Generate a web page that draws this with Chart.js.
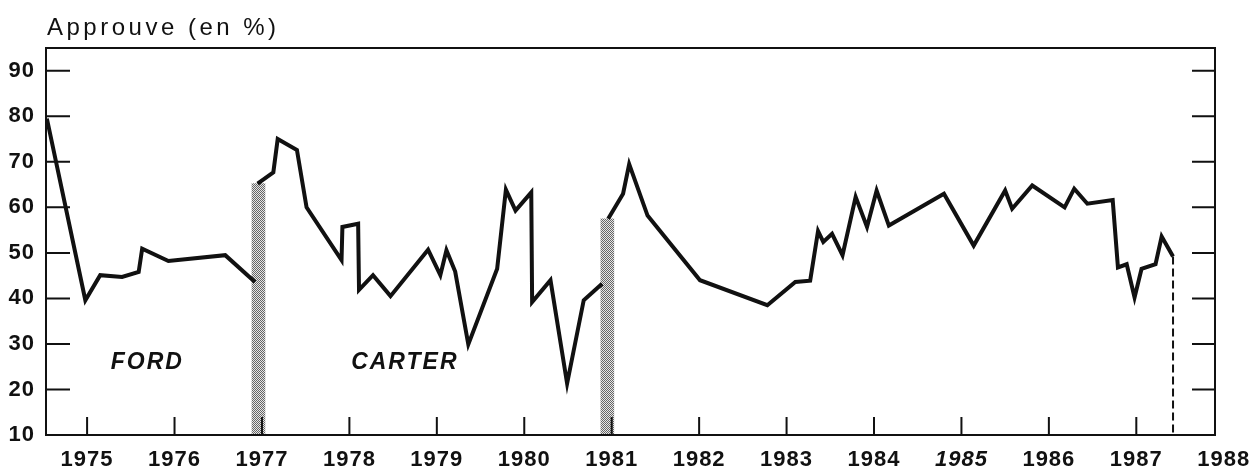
<!DOCTYPE html>
<html lang="fr">
  <head>
    <meta charset="UTF-8" />
    <title>Approuve (en %)</title>
    <script src="https://cdn.jsdelivr.net/npm/chart.js"></script>
    <style>
      html,
      body {
        margin: 0;
        padding: 0;
        background: #fff;
      }

      .chart-container {
        position: relative;
        width: 1255px;
        height: 468px;
      }
    </style>
  </head>
  <body>
    <div class="chart-container">
      <canvas id="approvalChart"></canvas>
    </div>

    <script>
      // Cote de popularité (en %)
      const fordYears = [1974.54, 1974.98, 1975.15, 1975.4, 1975.59, 1975.63, 1975.93, 1976.58, 1976.92];
      const fordApproval = [79.5, 39.6, 45.1, 44.7, 45.8, 50.9, 48.2, 49.5, 43.6];

      const carterYears = [
        1976.95, 1977.13, 1977.18, 1977.4, 1977.51, 1977.91, 1977.92, 1978.1, 1978.11, 1978.27,
        1978.47, 1978.9, 1979.04, 1979.11, 1979.21, 1979.36, 1979.69, 1979.79, 1979.9, 1980.08,
        1980.09, 1980.3, 1980.49, 1980.68, 1980.89,
      ];
      const carterApproval = [
        65.2, 67.7, 75.0, 72.6, 60.0, 48.4, 55.7, 56.4, 41.9, 45.1,
        40.5, 50.7, 45.1, 50.6, 45.9, 29.9, 46.5, 63.9, 59.3, 63.3,
        39.2, 44.0, 21.3, 39.6, 43.2,
      ];

      const reaganYears = [
        1980.96, 1981.13, 1981.2, 1981.41, 1982.01, 1982.78, 1983.1, 1983.27, 1983.36, 1983.42,
        1983.52, 1983.64, 1983.79, 1983.92, 1984.03, 1984.17, 1984.8, 1985.14, 1985.5, 1985.58,
        1985.81, 1986.18, 1986.29, 1986.44, 1986.73, 1986.79, 1986.89, 1986.98, 1987.06, 1987.22,
        1987.29, 1987.42,
      ];
      const reaganApproval = [
        57.5, 63.0, 69.5, 58.2, 44.0, 38.5, 43.6, 43.9, 54.8, 52.4,
        54.2, 49.5, 62.3, 55.7, 63.7, 56.0, 63.0, 51.6, 63.7, 59.7,
        64.8, 60.0, 64.1, 60.8, 61.6, 46.8, 47.5, 40.2, 46.5, 47.5,
        53.6, 49.2,
      ];

      // Périodes de transition (élection -> investiture)
      const transitionYears = [1976.96, 1980.95];
      const transitionTops = [65.2, 57.5];

      const yearTicks = [1975, 1976, 1977, 1978, 1979, 1980, 1981, 1982, 1983, 1984, 1985, 1986, 1987, 1988];
      const percentTicks = [10, 20, 30, 40, 50, 60, 70, 80, 90];

      const FONT = "'Liberation Sans', Arial, sans-serif";
      const INK = "#111";

      const toPoints = (xs, ys) => xs.map((x, i) => ({ x: x, y: ys[i] }));

      const ctx = document.getElementById("approvalChart").getContext("2d");

      // trame pointillée grise
      const tile = document.createElement("canvas");
      tile.width = 2;
      tile.height = 2;
      const t = tile.getContext("2d");
      t.fillStyle = "#e6e6e6";
      t.fillRect(0, 0, 2, 2);
      t.fillStyle = "#666";
      t.fillRect(0, 0, 1, 1);
      t.fillRect(1, 1, 1, 1);
      const stipple = ctx.createPattern(tile, "repeat");

      const lastYear = reaganYears[reaganYears.length - 1];
      const lastValue = reaganApproval[reaganApproval.length - 1];

      const lineStyle = {
        type: "line",
        borderColor: INK,
        borderWidth: 4,
        borderJoinStyle: "miter",
        pointRadius: 0,
        tension: 0,
        fill: false,
        order: 1,
      };

      const decor = {
        id: "decor",
        beforeDraw(chart) {
          chart.ctx.letterSpacing = "1px";
        },
        afterDatasetsDraw(chart) {
          const c = chart.ctx;
          const a = chart.chartArea;
          const x = chart.scales.x;
          const y = chart.scales.y;
          c.save();
          c.strokeStyle = INK;
          c.lineWidth = 2;
          c.strokeRect(a.left, a.top, a.right - a.left, a.bottom - a.top);

          c.beginPath();
          percentTicks.forEach((v) => {
            const py = y.getPixelForValue(v);
            c.moveTo(a.left, py);
            c.lineTo(a.left + 24, py);
            c.moveTo(a.right, py);
            c.lineTo(a.right - 23, py);
          });
          yearTicks.forEach((v) => {
            if (v > x.max) return;
            const px = x.getPixelForValue(v);
            c.moveTo(px, a.bottom);
            c.lineTo(px, a.bottom - 18);
          });
          c.stroke();

          c.fillStyle = INK;
          c.textBaseline = "middle";
          c.font = "italic bold 23px " + FONT;
          c.letterSpacing = "2px";
          c.fillText("FORD", x.getPixelForValue(1975.27), y.getPixelForValue(25.8));
          c.fillText("CARTER", x.getPixelForValue(1978.02), y.getPixelForValue(25.8));

          c.textBaseline = "alphabetic";
          c.font = "24px " + FONT;
          c.letterSpacing = "3.5px";
          c.fillText("Approuve (en %)", a.left + 1, 35);
          c.restore();
        },
      };

      new Chart(ctx, {
        type: "line",
        data: {
          datasets: [
            { ...lineStyle, label: "Ford", data: toPoints(fordYears, fordApproval) },
            { ...lineStyle, label: "Carter", data: toPoints(carterYears, carterApproval) },
            { ...lineStyle, label: "Reagan", data: toPoints(reaganYears, reaganApproval) },
            {
              type: "line",
              label: "fin",
              data: [
                { x: lastYear, y: lastValue },
                { x: lastYear, y: percentTicks[0] },
              ],
              borderColor: INK,
              borderWidth: 2,
              borderDash: [8, 4],
              pointRadius: 0,
              fill: false,
              order: 2,
            },
            {
              type: "bar",
              label: "transition",
              data: toPoints(transitionYears, transitionTops),
              backgroundColor: stipple,
              borderWidth: 0,
              barThickness: 13,
              base: 10,
              grouped: false,
              order: 3,
            },
          ],
        },
        options: {
          responsive: true,
          maintainAspectRatio: false,
          animation: false,
          layout: { padding: { left: 0, top: 48, right: 40, bottom: 0 } },
          plugins: {
            legend: { display: false },
            tooltip: { enabled: false },
          },
          scales: {
            x: {
              type: "linear",
              offset: false,
              min: 1974.53,
              max: 1987.9,
              grid: { display: false, drawTicks: false, offset: false },
              border: { display: false },
              afterBuildTicks: (scale) => {
                scale.ticks = yearTicks.map((v) => ({ value: v }));
              },
              afterFit: (scale) => {
                scale.height = 33;
                scale.paddingLeft = 0;
                scale.paddingRight = 0;
              },
              ticks: {
                autoSkip: false,
                maxRotation: 0,
                padding: 12,
                color: INK,
                callback: (v) => String(v),
                font: (c) => ({
                  family: FONT,
                  size: 22,
                  weight: "bold",
                  style: c.tick && c.tick.value === 1985 ? "italic" : "normal",
                }),
              },
            },
            y: {
              min: 10,
              max: 95,
              grid: { display: false, drawTicks: false },
              border: { display: false },
              afterBuildTicks: (scale) => {
                scale.ticks = percentTicks.map((v) => ({ value: v }));
              },
              afterFit: (scale) => {
                scale.width = 46;
              },
              ticks: {
                padding: 11,
                color: INK,
                font: { family: FONT, size: 22, weight: "bold" },
              },
            },
          },
        },
        plugins: [decor],
      });
    </script>
  </body>
</html>
